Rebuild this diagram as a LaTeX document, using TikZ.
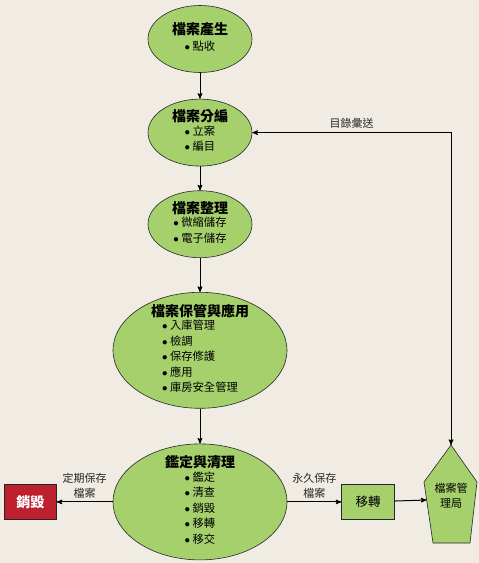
\documentclass[tikz,border=0pt]{standalone}
\usepackage{fontspec}
\setmainfont{Noto Sans CJK TC}
\usetikzlibrary{arrows, positioning, shapes.geometric}
\definecolor{paper}{HTML}{F0ECE4}
\definecolor{leaf}{HTML}{A6D06C}
\definecolor{burnred}{HTML}{BE202E}
\newcommand{\itm}{$\bullet$\hspace{2.5pt}}
\newcommand{\stagetitle}[1]{\textbf{\fontsize{14}{16.5}\selectfont #1}}

\begin{document}
\begin{tikzpicture}[x=1pt, y=-1pt, ->, >=stealth', line width=1pt,
    stage/.style ={ellipse, draw=black!85, fill=leaf, line width=0.6pt,
      minimum width=104pt, minimum height=67pt, inner sep=0pt},
    bigstage/.style ={stage, minimum width=174pt, minimum height=116pt},
    stagetext/.style ={align=center, font=\fontsize{11.3}{15.6}\selectfont},
    block_box/.style ={rectangle, draw=black!85, line width=0.6pt,
      minimum width=53pt, minimum height=35pt, inner sep=0pt},
    note/.style ={align=center, font=\fontsize{11}{15}\selectfont, text=black!85}]
    \fill[-, paper] (0,0) rectangle (479,563);
    \useasboundingbox (0,0) rectangle (479,563);

    \node[stage, label={[stagetext]center:{\stagetitle{檔案產生}\\
        \begin{tabular}{@{}l@{}}\itm 點收\end{tabular}}}] (birth) at (200,39) {};
    \node[stage, below=26pt of birth, label={[stagetext]center:{\stagetitle{檔案分編}\\
        \begin{tabular}{@{}l@{}}\itm 立案\\ \itm 編目\end{tabular}}}] (edit) {};
    \node[stage, below=24pt of edit, label={[stagetext]center:{\stagetitle{檔案整理}\\
        \begin{tabular}{@{}l@{}}\itm 微縮儲存\\ \itm 電子儲存\end{tabular}}}] (arrange) {};
    \node[bigstage, below=34pt of arrange, label={[stagetext]center:{\stagetitle{檔案保管與應用}\\
        \begin{tabular}{@{}l@{}}\itm 入庫管理\\ \itm 檢調\\ \itm 保存修護\\ \itm 應用\\
        \itm 庫房安全管理\end{tabular}}}] (keep) {};
    \node[bigstage, below=35pt of keep, label={[stagetext]center:{\stagetitle{鑑定與清理}\\
        \begin{tabular}{@{}l@{}}\itm 鑑定\\ \itm 清查\\ \itm 銷毀\\ \itm 移轉\\
        \itm 移交\end{tabular}}}] (appraise) {};

    \node[block_box, fill=burnred, minimum width=52pt, left=56pt of appraise,
      font=\bfseries\fontsize{14}{16}\selectfont, text=white] (destroy) {銷毀};
    \node[block_box, fill=leaf, right=54pt of appraise,
      font=\fontsize{12.5}{15}\selectfont] (transfer) {移轉};

    % archives agency
    \draw[-, fill=leaf, draw=black!85, line width=0.6pt]
      (451,445) -- (477,482) -- (470,543) -- (433,543) -- (424,482) -- cycle;
    \node[note, text=black, font=\fontsize{11}{15}\selectfont] (agency) at (451,496) {檔案管\\理局};
    \coordinate (agencytop) at (451,445);
    \coordinate (agencyleft) at (426.5,500);

    \draw (birth) -- (edit);
    \draw (edit) -- (arrange);
    \draw (arrange) -- (keep);
    \draw (keep) -- (appraise);
    \draw (appraise) -- node[note, above] {定期保存\\檔案} (destroy);
    \draw (appraise) -- node[note, above] {永久保存\\檔案} (transfer);
    \draw (transfer) -- (agencyleft);
    \draw[<->] (edit) -| node[note, pos=0.25, above] {目錄彙送} (agencytop);
\end{tikzpicture}
\end{document}
